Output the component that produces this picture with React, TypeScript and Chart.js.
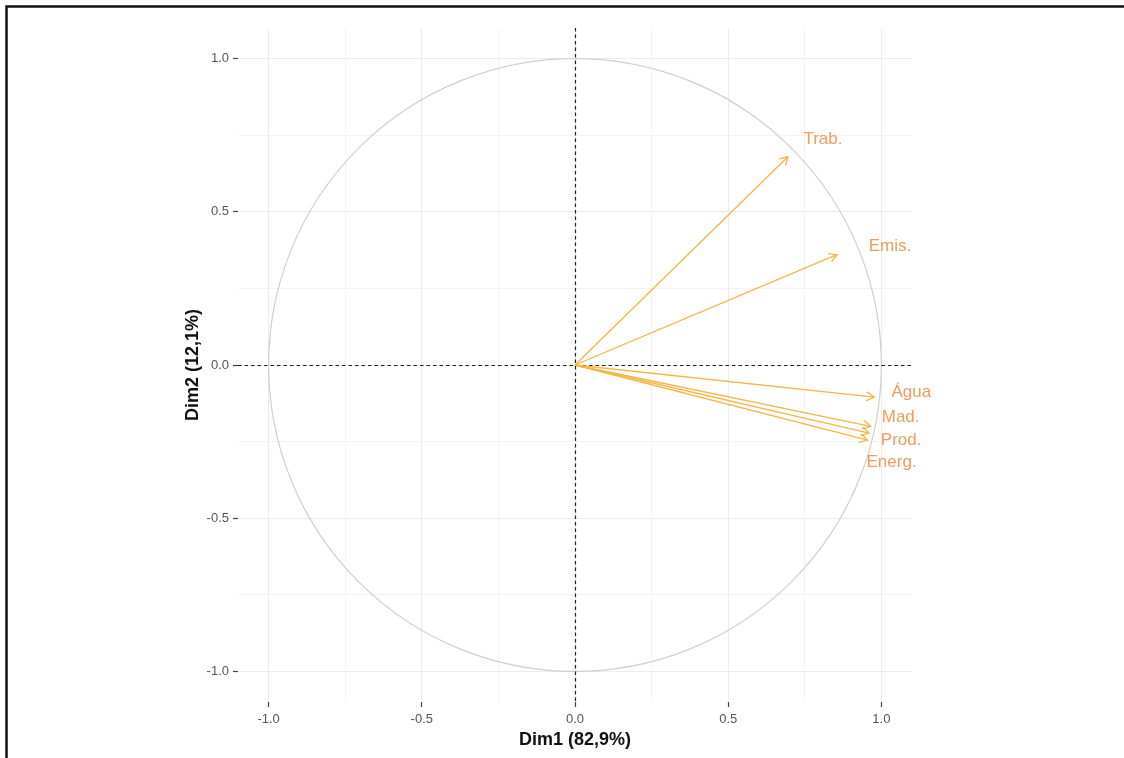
import React, { useEffect, useRef } from "react";
import { Chart, registerables } from "chart.js";

Chart.register(...registerables);

// ---- data ----
const variables = ["Trab.", "Emis.", "Água", "Mad.", "Prod.", "Energ."];
const dim1 = [0.695, 0.855, 0.977, 0.965, 0.96, 0.955];
const dim2 = [0.68, 0.36, -0.105, -0.2, -0.222, -0.245];
const gridValues = [-1, -0.75, -0.5, -0.25, 0, 0.25, 0.5, 0.75, 1];
const xTitle = "Dim1 (82,9%)";
const yTitle = "Dim2 (12,1%)";

// ---- styles / layout (not data) ----
const ARROW_COLOR = "#F5B547";
const LABEL_COLOR = "#F29A5E";
const FONT = "'Liberation Sans', Arial, sans-serif";
// pixel offsets of each label centre from its arrow tip (repel-like placement)
const labelOffsets = [
  [35, -17],
  [53, -8],
  [37, -5],
  [30, -9],
  [32, 7],
  [24, 22],
];

const isMajor = (v: number) => Math.abs(v * 2 - Math.round(v * 2)) < 1e-9;

const overlay = {
  id: "overlay",
  beforeDatasetsDraw(chart: any) {
    const { ctx, chartArea, scales } = chart;
    const xs = scales.x;
    const ys = scales.y;
    const cx = xs.getPixelForValue(0);
    const cy = ys.getPixelForValue(0);
    const rx = xs.getPixelForValue(1) - cx;
    const ry = cy - ys.getPixelForValue(1);
    ctx.save();
    // unit circle
    ctx.strokeStyle = "#cfcfcf";
    ctx.lineWidth = 1.2;
    ctx.beginPath();
    ctx.ellipse(cx, cy, rx, ry, 0, 0, Math.PI * 2);
    ctx.stroke();
    // dashed zero lines
    ctx.strokeStyle = "#222";
    ctx.lineWidth = 1.2;
    ctx.setLineDash([3.5, 3]);
    ctx.beginPath();
    ctx.moveTo(chartArea.left, Math.round(cy) + 0.5);
    ctx.lineTo(chartArea.right, Math.round(cy) + 0.5);
    ctx.moveTo(Math.round(cx) + 0.5, chartArea.top);
    ctx.lineTo(Math.round(cx) + 0.5, chartArea.bottom);
    ctx.stroke();
    ctx.restore();
  },
  afterDatasetsDraw(chart: any) {
    const { ctx, scales } = chart;
    const xs = scales.x;
    const ys = scales.y;
    const ox = xs.getPixelForValue(0);
    const oy = ys.getPixelForValue(0);
    ctx.save();
    variables.forEach((name, i) => {
      const tx = xs.getPixelForValue(dim1[i]);
      const ty = ys.getPixelForValue(dim2[i]);
      const ang = Math.atan2(ty - oy, tx - ox);
      const len = 9;
      const spread = Math.PI / 6;
      ctx.strokeStyle = ARROW_COLOR;
      ctx.lineWidth = 1.3;
      ctx.beginPath();
      ctx.moveTo(tx - len * Math.cos(ang - spread), ty - len * Math.sin(ang - spread));
      ctx.lineTo(tx, ty);
      ctx.lineTo(tx - len * Math.cos(ang + spread), ty - len * Math.sin(ang + spread));
      ctx.stroke();
      ctx.fillStyle = LABEL_COLOR;
      ctx.font = `17px ${FONT}`;
      ctx.textAlign = "center";
      ctx.textBaseline = "middle";
      ctx.fillText(name, tx + labelOffsets[i][0], ty + labelOffsets[i][1]);
    });
    ctx.restore();
  },
  afterDraw(chart: any) {
    const { ctx } = chart;
    ctx.save();
    ctx.strokeStyle = "#111";
    ctx.lineWidth = 2.5;
    ctx.strokeRect(6.5, 6.5, 1300, 1300);
    ctx.restore();
  },
};

const setTicks = (axis: any) => {
  axis.ticks = gridValues.map((v) => ({ value: v }));
};

export default function App() {
  const ref = useRef<HTMLCanvasElement | null>(null);
  useEffect(() => {
    if (!ref.current) return;
    const chart = new Chart(ref.current, {
      type: "scatter",
      data: {
        datasets: variables.map((name, i) => ({
          label: name,
          data: [
            { x: 0, y: 0 },
            { x: dim1[i], y: dim2[i] },
          ],
          showLine: true,
          pointRadius: 0,
          borderColor: ARROW_COLOR,
          borderWidth: 1.3,
        })),
      },
      options: {
        animation: false,
        responsive: false,
        maintainAspectRatio: false,
        layout: { padding: { left: 180, top: 28, right: 212, bottom: 0 } },
        plugins: { legend: { display: false }, tooltip: { enabled: false } },
        scales: {
          x: {
            type: "linear",
            min: -1.1,
            max: 1.1,
            afterBuildTicks: setTicks,
            afterFit: (axis: any) => {
              axis.height = 56;
            },
            border: { display: false },
            grid: {
              color: (c: any) => (isMajor(c.tick?.value ?? 0) ? "#ebebeb" : "#f3f3f3"),
              lineWidth: 1,
              tickLength: 5,
              tickColor: (c: any) => (isMajor(c.tick?.value ?? 0) ? "#444" : "rgba(0,0,0,0)"),
              tickWidth: 1.2,
            },
            ticks: {
              autoSkip: false,
              maxRotation: 0,
              padding: 5,
              color: "#555",
              font: { family: FONT, size: 13 },
              callback: (v: any) => (isMajor(Number(v)) ? Number(v).toFixed(1) : ""),
            },
            title: {
              display: true,
              text: xTitle,
              color: "#111",
              font: { family: FONT, size: 18, weight: "bold" },
              padding: { top: 0, bottom: 7 },
            },
          },
          y: {
            type: "linear",
            min: -1.1,
            max: 1.1,
            afterBuildTicks: setTicks,
            afterFit: (axis: any) => {
              axis.width = 58;
            },
            border: { display: false },
            grid: {
              color: (c: any) => (isMajor(c.tick?.value ?? 0) ? "#ebebeb" : "#f3f3f3"),
              lineWidth: 1,
              tickLength: 5,
              tickColor: (c: any) => (isMajor(c.tick?.value ?? 0) ? "#444" : "rgba(0,0,0,0)"),
              tickWidth: 1.2,
            },
            ticks: {
              autoSkip: false,
              padding: 4,
              color: "#555",
              font: { family: FONT, size: 13 },
              callback: (v: any) => (isMajor(Number(v)) ? Number(v).toFixed(1) : ""),
            },
            title: {
              display: true,
              text: yTitle,
              color: "#111",
              font: { family: FONT, size: 18, weight: "bold" },
              padding: { top: 2, bottom: 0 },
            },
          },
        },
      },
      plugins: [overlay],
    });
    return () => chart.destroy();
  }, []);
  return (
    <div style={{ position: "absolute", left: 0, top: 0, width: 1124, height: 758, background: "#fff" }}>
      <canvas ref={ref} width={1124} height={758} style={{ display: "block", width: 1124, height: 758 }} />
    </div>
  );
}
